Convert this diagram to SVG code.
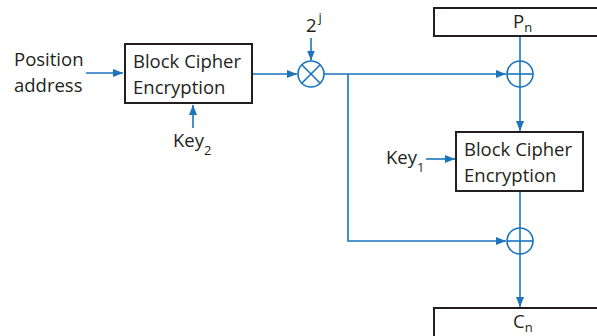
<svg xmlns="http://www.w3.org/2000/svg" width="597" height="336" viewBox="0 0 597 336">
  <style>
    .box { fill: #fff; stroke: #231f20; stroke-width: 2; }
    .lbl { font-family: "Open Sans", "Liberation Sans", sans-serif; font-size: 18.5px; fill: #231f20; }
    .sub { font-size: 13px; }
    .wire { fill: none; stroke: #1a75bc; stroke-width: 1.6; }
    .op { fill: #fff; stroke: #1a75bc; stroke-width: 1.6; }
  </style>
  <defs>
    <marker id="arr" viewBox="0 0 10 8" refX="10" refY="4" markerWidth="10" markerHeight="8" markerUnits="userSpaceOnUse" orient="auto">
      <path d="M0,0 L10,4 L0,8 Z" fill="#1a75bc"/>
    </marker>
  </defs>

  <rect width="597" height="336" fill="#fff"/>

  <!-- connectors -->
  <g id="connectors">
    <line class="wire" x1="86" y1="73" x2="123" y2="73" marker-end="url(#arr)"/>
    <line class="wire" x1="193" y1="128" x2="193" y2="105" marker-end="url(#arr)"/>
    <line class="wire" x1="253" y1="74" x2="297" y2="74" marker-end="url(#arr)"/>
    <line class="wire" x1="311" y1="38" x2="311" y2="60.5" marker-end="url(#arr)"/>
    <line class="wire" x1="324" y1="74" x2="506" y2="74" marker-end="url(#arr)"/>
    <polyline class="wire" points="348,74 348,241 506,241" marker-end="url(#arr)"/>
    <line class="wire" x1="520" y1="36" x2="520" y2="61"/>
    <line class="wire" x1="520" y1="87" x2="520" y2="131" marker-end="url(#arr)"/>
    <line class="wire" x1="426" y1="159" x2="455" y2="159" marker-end="url(#arr)"/>
    <line class="wire" x1="520" y1="192" x2="520" y2="228"/>
    <line class="wire" x1="520" y1="254" x2="520" y2="307" marker-end="url(#arr)"/>
  </g>

  <!-- input label -->
  <g id="position">
    <text class="lbl" x="14" y="66">Position</text>
    <text class="lbl" x="14" y="92">address</text>
  </g>

  <!-- first cipher block -->
  <g id="cipher2">
    <rect class="box" x="125" y="44" width="127" height="59"/>
    <text class="lbl" x="133" y="68">Block Cipher</text>
    <text class="lbl" x="133" y="94">Encryption</text>
  </g>

  <g id="key2">
    <text class="lbl" x="173" y="147">Key<tspan class="sub" dy="8">2</tspan></text>
  </g>

  <!-- multiplier -->
  <g id="mult">
    <circle class="op" cx="311" cy="74" r="13"/>
    <line class="wire" x1="301.8" y1="64.8" x2="320.2" y2="83.2"/>
    <line class="wire" x1="320.2" y1="64.8" x2="301.8" y2="83.2"/>
  </g>

  <g id="pow">
    <text class="lbl" x="306" y="32">2<tspan class="sub" font-size="11" dx="2" dy="-10">j</tspan></text>
  </g>

  <!-- plaintext -->
  <g id="pn">
    <rect class="box" x="434" y="8" width="175" height="28"/>
    <text class="lbl" x="513" y="28">P<tspan class="sub" dy="4">n</tspan></text>
  </g>

  <!-- first XOR -->
  <g id="xor1">
    <circle class="op" cx="520" cy="74" r="13"/>
    <line class="wire" x1="507" y1="74" x2="533" y2="74"/>
    <line class="wire" x1="520" y1="61" x2="520" y2="87"/>
  </g>

  <g id="key1">
    <text class="lbl" x="386" y="164">Key<tspan class="sub" dy="8">1</tspan></text>
  </g>

  <!-- second cipher block -->
  <g id="cipher1">
    <rect class="box" x="456" y="132" width="127" height="59"/>
    <text class="lbl" x="464" y="156">Block Cipher</text>
    <text class="lbl" x="464" y="182">Encryption</text>
  </g>

  <!-- second XOR -->
  <g id="xor2">
    <circle class="op" cx="520" cy="241" r="13"/>
    <line class="wire" x1="507" y1="241" x2="533" y2="241"/>
    <line class="wire" x1="520" y1="228" x2="520" y2="254"/>
  </g>

  <!-- ciphertext -->
  <g id="cn">
    <rect class="box" x="434" y="308" width="175" height="40"/>
    <text class="lbl" x="513" y="328">C<tspan class="sub" dy="4">n</tspan></text>
  </g>
</svg>
